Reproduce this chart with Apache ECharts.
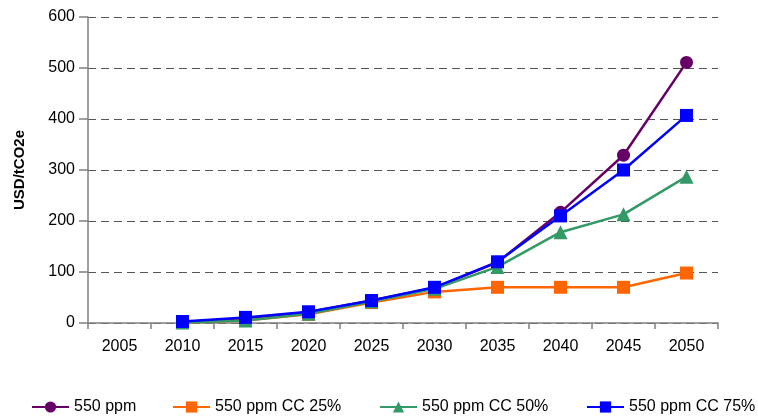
<!DOCTYPE html>
<html><head><meta charset="utf-8">
<script src="https://cdn.jsdelivr.net/npm/echarts@6/dist/echarts.min.js"></script>
<style>html,body{margin:0;padding:0;background:#fff}#c{width:758px;height:418px}</style>
</head><body><div id="c"></div>
<script>
const years = ['2005','2010','2015','2020','2025','2030','2035','2040','2045','2050'];
const ppm550 = [null, 2, 9, 21, 44, 69, 119, 217, 329, 511];
const cc25 = [null, 1, 5, 17, 40, 61, 70, 70, 70, 98];
const cc50 = [null, 1, 5, 18, 42, 67, 110, 178, 213, 287];
const cc75 = [null, 3, 11, 22, 44, 70, 120, 210, 300, 407];
const yTicks = [0, 100, 200, 300, 400, 500, 600];
const names = ['550 ppm', '550 ppm CC 25%', '550 ppm CC 50%', '550 ppm CC 75%'];

const font = 'Liberation Sans, Arial, sans-serif';
function mk(name, data, color, symbol, size) {
  return { name, type: 'line', data, symbol, symbolSize: size,
    lineStyle: { color, width: 2.5 }, itemStyle: { color }, showSymbol: true, animation: false };
}
const legendLeft = [31, 172, 379, 586];
const legends = names.map((n, i) => ({
  left: legendLeft[i], top: 399, padding: 0, itemWidth: 37, itemHeight: 14, itemGap: 0,
  textStyle: { fontFamily: font, fontSize: 16, color: '#000' },
  data: [n]
}));
const chart = echarts.init(document.getElementById('c'), null, { renderer: 'canvas' });
chart.setOption({
  animation: false,
  textStyle: { fontFamily: font },
  grid: { left: 88, right: 40, top: 17, bottom: 95, containLabel: false },
  legend: legends,
  xAxis: {
    type: 'category', data: years, boundaryGap: true,
    axisLine: { lineStyle: { color: '#808080', width: 1.5 } },
    axisTick: { show: true, length: 6, lineStyle: { color: '#808080', width: 1.5 } },
    axisLabel: { color: '#000', fontSize: 16, fontFamily: font, margin: 16 }
  },
  yAxis: {
    type: 'value', min: yTicks[0], max: yTicks[yTicks.length - 1], interval: 100,
    name: 'USD/tCO2e', nameLocation: 'middle', nameGap: 61, nameRotate: 90,
    nameTextStyle: { fontFamily: font, fontSize: 15, fontWeight: 'bold', color: '#000' },
    axisLine: { show: true, lineStyle: { color: '#808080', width: 1.5 } },
    axisTick: { show: true, length: 9, lineStyle: { color: '#808080', width: 1.5 } },
    axisLabel: { color: '#000', fontSize: 16, fontFamily: font, margin: 13 },
    splitLine: { show: true, lineStyle: { color: '#555', type: [8, 5], width: 1.2 } }
  },
  series: [
    mk(names[0], ppm550, '#660066', 'circle', 13),
    mk(names[1], cc25, '#FF6600', 'rect', 13),
    mk(names[2], cc50, '#339966', 'triangle', 14),
    mk(names[3], cc75, '#0000FF', 'rect', 13)
  ]
});
</script></body></html>
